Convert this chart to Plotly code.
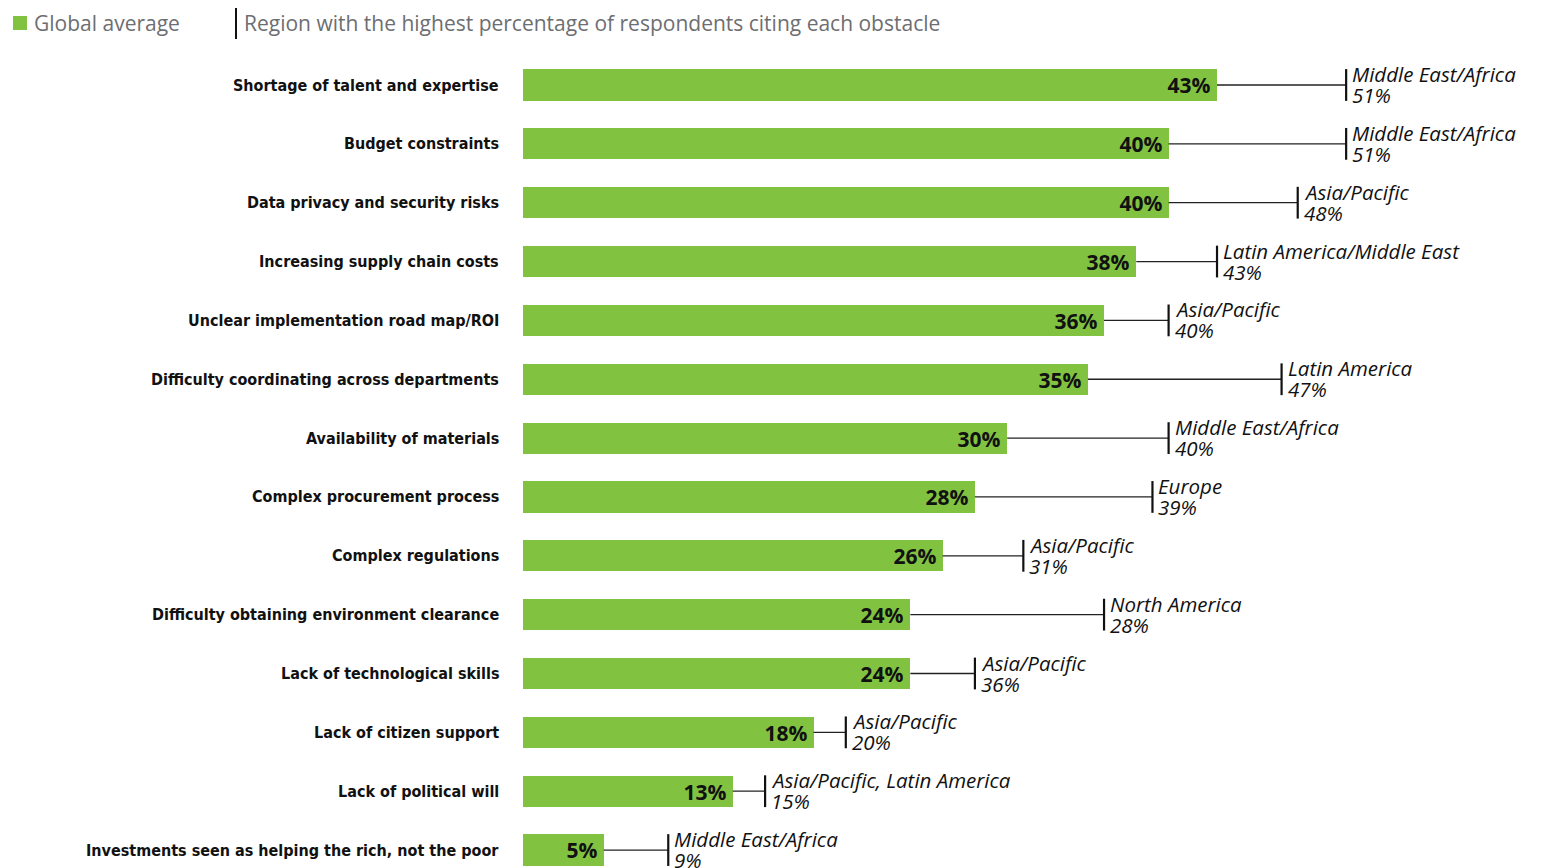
import plotly.graph_objects as go

categories = [
    "Shortage of talent and expertise",
    "Budget constraints",
    "Data privacy and security risks",
    "Increasing supply chain costs",
    "Unclear implementation road map/ROI",
    "Difficulty coordinating across departments",
    "Availability of materials",
    "Complex procurement process",
    "Complex regulations",
    "Difficulty obtaining environment clearance",
    "Lack of technological skills",
    "Lack of citizen support",
    "Lack of political will",
    "Investments seen as helping the rich, not the poor",
]
global_avg = [43, 40, 40, 38, 36, 35, 30, 28, 26, 24, 24, 18, 13, 5]
top_region = [
    "Middle East/Africa", "Middle East/Africa", "Asia/Pacific",
    "Latin America/Middle East", "Asia/Pacific", "Latin America",
    "Middle East/Africa", "Europe", "Asia/Pacific", "North America",
    "Asia/Pacific", "Asia/Pacific", "Asia/Pacific, Latin America",
    "Middle East/Africa",
]
region_pct = [51, 51, 48, 43, 40, 47, 40, 39, 31, 28, 36, 20, 15, 9]
# positions of the region markers as drawn in the original
region_marker_pct = [51, 51, 48, 43, 40, 47, 40, 39, 31, 36, 28, 20, 15, 9]

GREEN = "#81C341"
GRAY = "#6D6E71"
ys = list(range(len(categories)))

fig = go.Figure()
fig.add_trace(go.Bar(
    x=global_avg, y=ys, orientation="h",
    marker=dict(color=GREEN, line=dict(width=0)),
    width=0.53,
    text=[f"{v}%\u2009" for v in global_avg],
    textposition="inside", insidetextanchor="end",
    textfont=dict(family="Open Sans", size=21, color="#111111", weight="bold"),
    cliponaxis=False, showlegend=False, hoverinfo="skip",
))

# connector lines
cx, cy = [], []
for y, a, m in zip(ys, global_avg, region_marker_pct):
    cx += [a, m, None]
    cy += [y, y, None]
fig.add_trace(go.Scatter(x=cx, y=cy, mode="lines",
                         line=dict(color="#222222", width=1.3),
                         showlegend=False, hoverinfo="skip", cliponaxis=False))
# vertical markers
mx, my = [], []
for y, m in zip(ys, region_marker_pct):
    mx += [m, m, None]
    my += [y - 0.27, y + 0.27, None]
fig.add_trace(go.Scatter(x=mx, y=my, mode="lines",
                         line=dict(color="#111111", width=2.2),
                         showlegend=False, hoverinfo="skip", cliponaxis=False))

annotations = []
for y, c in zip(ys, categories):
    annotations.append(dict(
        x=0, y=y, xref="paper", yref="y", xanchor="right", yanchor="middle",
        xshift=-22, text=c, showarrow=False,
        font=dict(family="DejaVu Sans Condensed, Roboto, sans-serif", size=16,
                  color="#111111", weight="bold"),
    ))
for y, m, r, p in zip(ys, region_marker_pct, top_region, region_pct):
    annotations.append(dict(
        x=m, y=y, xref="x", yref="y", xanchor="left", yanchor="middle",
        xshift=4, yshift=11, text=f"<i>{r}</i>", showarrow=False,
        font=dict(family="Open Sans", size=20.5, color="#111111"),
    ))
    annotations.append(dict(
        x=m, y=y, xref="x", yref="y", xanchor="left", yanchor="middle",
        xshift=4, yshift=-10, text=f"<i>{p}%</i>", showarrow=False,
        font=dict(family="Open Sans", size=20.5, color="#111111"),
    ))

# legend
annotations.append(dict(
    x=32, y=23, xref="paper", yref="paper", text="Global average",
    showarrow=False, xanchor="left", yanchor="middle",
    font=dict(family="Open Sans", size=21, color=GRAY),
))
annotations.append(dict(
    x=242, y=23, xref="paper", yref="paper",
    text="Region with the highest percentage of respondents citing each obstacle",
    showarrow=False, xanchor="left", yanchor="middle",
    font=dict(family="Open Sans", size=21, color=GRAY),
))

W, H = 1545, 868
L, T = 523, 56
plot_w = W - L
plot_h = H - T
px_per_pct = 16.14
row_px = 58.85

# convert legend annotation pixel coords to paper coords
for a in annotations[-2:]:
    a["x"] = (a["x"] - L) / plot_w
    a["y"] = (H - a["y"]) / plot_h

shapes = [
    dict(type="rect", xref="paper", yref="paper",
         x0=(13 - L) / plot_w, x1=(27 - L) / plot_w,
         y0=(H - 30) / plot_h, y1=(H - 16) / plot_h,
         fillcolor=GREEN, line=dict(width=0)),
    dict(type="line", xref="paper", yref="paper",
         x0=(236 - L) / plot_w, x1=(236 - L) / plot_w,
         y0=(H - 39) / plot_h, y1=(H - 8) / plot_h,
         line=dict(color="#111111", width=2)),
]

ymin = -(85 - T) / row_px
ymax = ymin + plot_h / row_px

fig.update_layout(
    width=W, height=H,
    margin=dict(l=L, r=0, t=T, b=0, pad=0),
    paper_bgcolor="white", plot_bgcolor="white",
    xaxis=dict(range=[0, plot_w / px_per_pct], visible=False, fixedrange=True),
    yaxis=dict(range=[ymax, ymin], visible=False, fixedrange=True),
    annotations=annotations, shapes=shapes,
    bargap=0, showlegend=False,
    uniformtext=dict(minsize=20, mode="show"),
)

fig.write_html("out.html", config={"displayModeBar": False},
               post_script="document.body.style.margin='0';document.body.style.overflow='hidden';")
